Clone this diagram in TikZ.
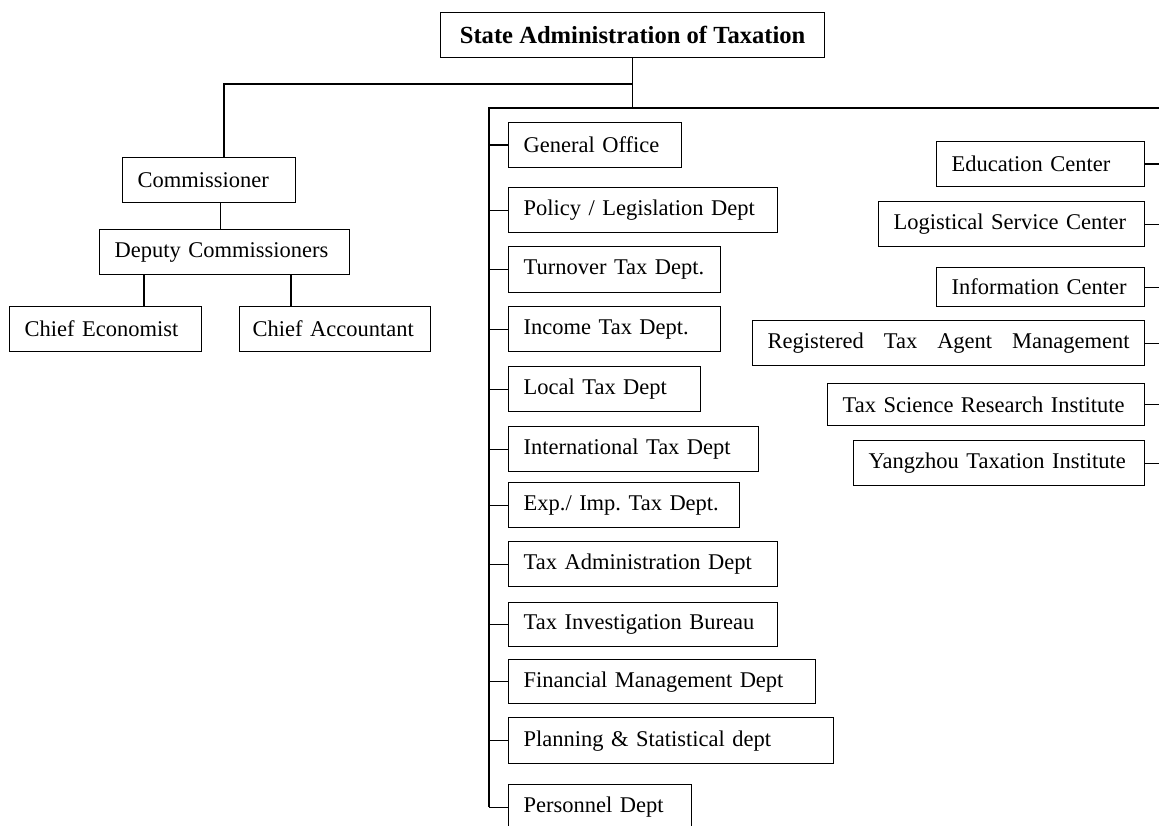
\documentclass[tikz,border=0pt]{standalone}
\usepackage{fontspec}
\setmainfont{Liberation Serif}
\usetikzlibrary{positioning}
\frenchspacing

\begin{document}
\begin{tikzpicture}[x=0.02cm,y=-0.02cm,line width=0.75pt,
    box/.style={draw,anchor=north west,inner xsep=0.3cm,inner ysep=0pt,align=left,
      minimum height=0.9cm,font=\fontsize{12.8}{15}\selectfont},
    title/.style={draw,anchor=north west,inner sep=0pt,minimum width=7.68cm,
      minimum height=0.9cm,font=\fontsize{14}{17}\selectfont\bfseries}]
  \useasboundingbox (0,0) rectangle (1159,825);
  \node[title] (sat) at (440,12) {State Administration of Taxation};

  \node[box,text width=2.86cm] (comm) at (122,157) {Commissioner};
  \node[box,text width=4.4cm] (dep) at (99,229) {Deputy Commissioners};
  \node[box,text width=3.24cm] (econ) at (9,306) {Chief Economist};
  \node[box,text width=3.3cm,inner xsep=0.26cm] (acc) at (239,306) {Chief Accountant};

  \node[box,text width=2.86cm] (go) at (508,122) {General Office};
  \node[box,text width=4.78cm] (pol) at (508,187) {Policy / Legislation Dept};
  \node[box,text width=3.64cm,minimum height=0.92cm] (turn) at (508,246) {Turnover Tax Dept.};
  \node[box,text width=3.64cm] (inc) at (508,306) {Income Tax Dept.};
  \node[box,text width=3.24cm] (loc) at (508,366) {Local Tax Dept};
  \node[box,text width=4.4cm] (intl) at (508,426) {International Tax Dept};
  \node[box,text width=4.02cm] (expimp) at (508,482) {Exp./ Imp. Tax Dept.};
  \node[box,text width=4.78cm] (adm) at (508,541) {Tax Administration Dept};
  \node[box,text width=4.78cm,minimum height=0.88cm] (inv) at (508,602) {Tax Investigation Bureau};
  \node[box,text width=5.54cm,minimum height=0.88cm] (fin) at (508,659) {Financial Management Dept};
  \node[box,text width=5.9cm,minimum height=0.92cm] (plan) at (508,717) {Planning \& Statistical dept};
  \node[box,text width=3.06cm] (pers) at (508,784) {Personnel Dept};

  \node[box,text width=3.56cm] (edu) at (936,141) {Education Center};
  \node[box,text width=4.72cm] (logi) at (878,201) {Logistical Service Center};
  \node[box,text width=3.56cm,minimum height=0.78cm] (info) at (936,267) {Information Center};
  \node[box,text width=7.24cm] (reg) at (752,320) {Registered\hfill Tax\hfill Agent\hfill Management};
  \node[box,text width=5.74cm,minimum height=0.84cm] (sci) at (827,383) {Tax Science Research Institute};
  \node[box,text width=5.22cm] (yz) at (853,440) {Yangzhou Taxation Institute};

  \coordinate (hubL) at (224,84);
  \coordinate (trunkL) at (489,108);
  \coordinate (trunkR) at (1159,108);

  \draw (sat.south) -- (sat.south |- trunkL);
  \draw (sat.south |- hubL) -- (hubL) -- (hubL |- comm.north);
  \draw ([xshift=0.23cm]comm.south) -- ([xshift=0.23cm]comm.south |- dep.north);
  \draw (dep.south -| 144,0) -- (econ.north -| 144,0);
  \draw (dep.south -| 291,0) -- (acc.north -| 291,0);

  \draw (trunkR) -- (trunkL) -- (trunkL |- pers.west);
  \foreach \n in {go,pol,turn,inc,loc,intl,expimp,adm,inv,fin,plan,pers}
    \draw (trunkL |- \n.west) -- (\n.west);
  \foreach \n in {edu,logi,info,reg,sci,yz}
    \draw (\n.east) -- (\n.east -| trunkR);
\end{tikzpicture}
\end{document}
